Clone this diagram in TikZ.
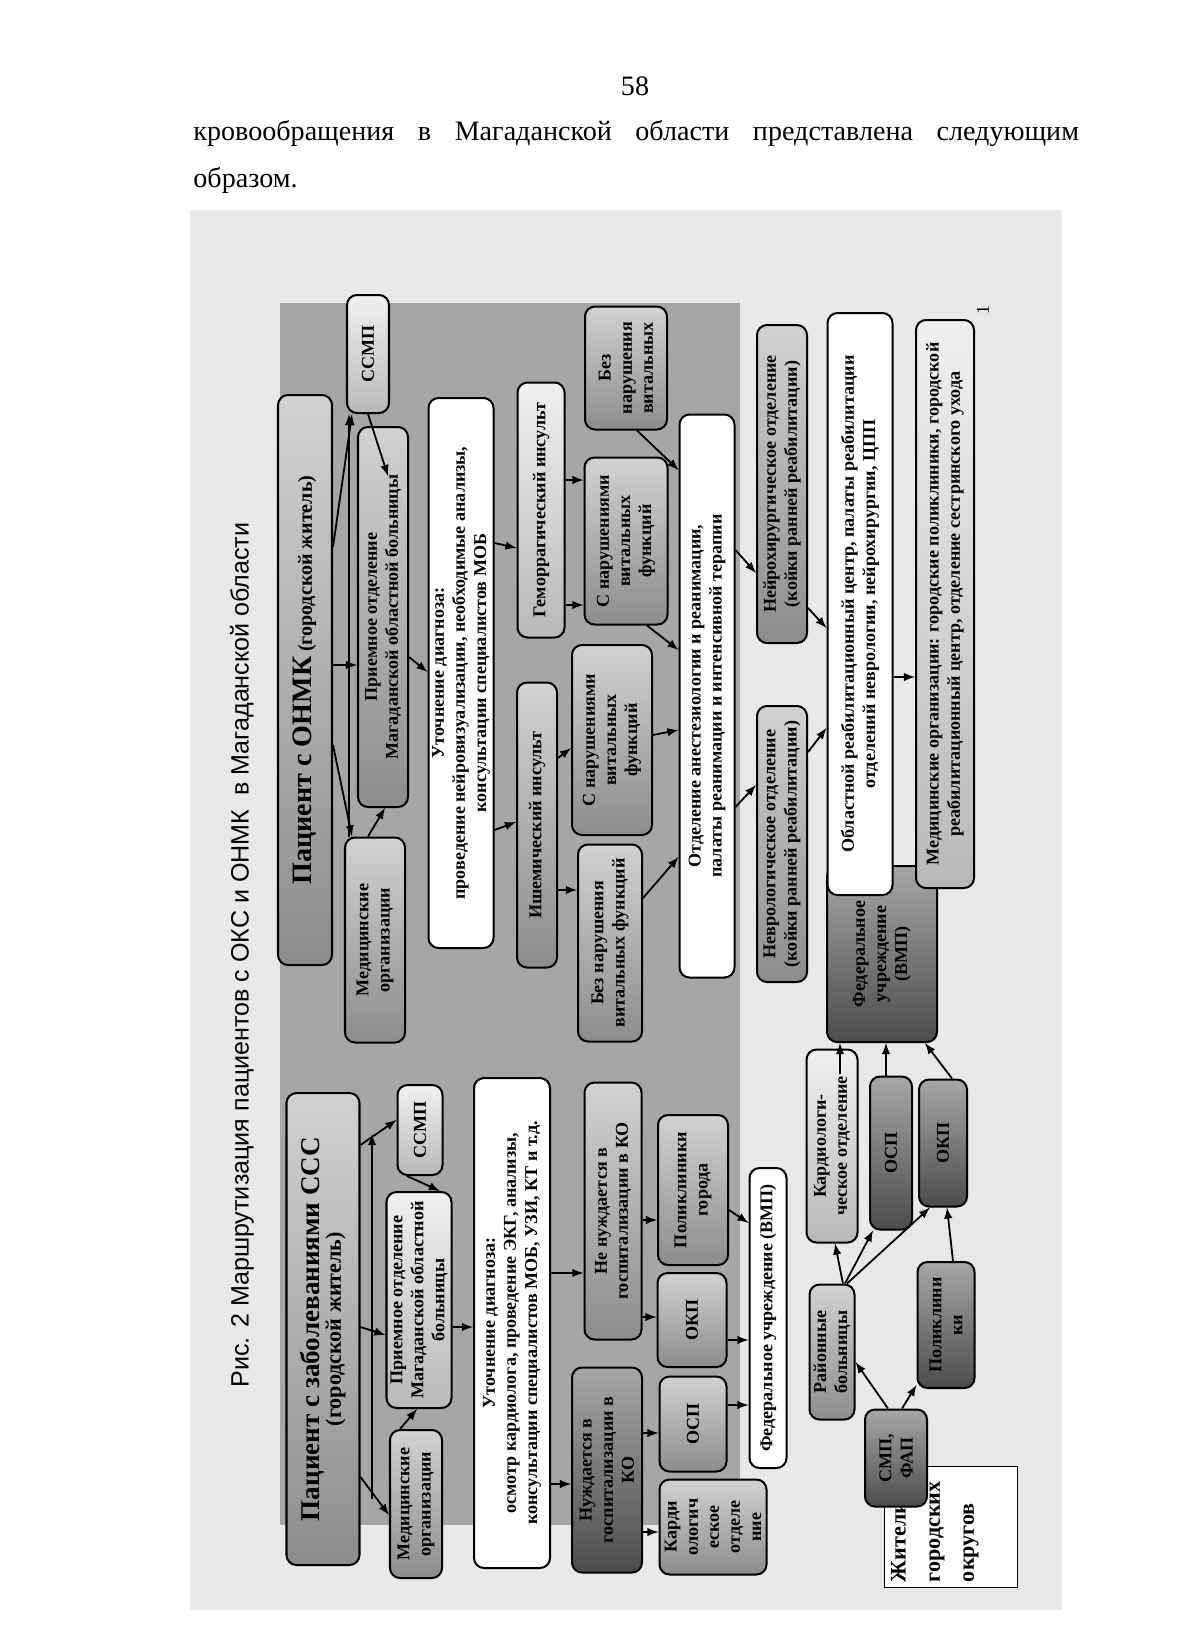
\documentclass[tikz,border=0pt]{standalone}
\usepackage{fontspec}
\setmainfont{Liberation Serif}
\newfontfamily\capfont{Liberation Sans}
\usetikzlibrary{calc}
\newcommand{\pxu}{0.0175cm}
\tikzset{
  blk/.style={draw, rounded corners=5pt, line width=1pt, rotate=90, align=center, inner sep=1pt, font=\fontsize{9}{10.5}\selectfont\bfseries},
  sz/.style 2 args={minimum height=#1*\pxu, minimum width=#2*\pxu},
  blkw/.style={blk, fill=white},
  blkl/.style={blk, top color=black!6, bottom color=black!28},
  blkm/.style={blk, top color=black!18, bottom color=black!45},
  blkd/.style={blk, top color=black!35, bottom color=black!70},
  arr/.style={->, line width=0.9pt},
}
\begin{document}
\begin{tikzpicture}[x=0.0175cm, y=-0.0175cm, >=latex]
	\useasboundingbox (0,0) rectangle (1200,1651);
	\fill[white] (0,0) rectangle (1200,1651);
	
	% page text
	\node[font=\fontsize{14}{16}\selectfont] (pnum) at (635,86) {58};
	\node[anchor=base west, inner sep=0pt, font=\fontsize{14}{16}\selectfont] (line1) at (193,140)
		{\makebox[15.5cm][s]{кровообращения в Магаданской области представлена следующим}};
	\node[anchor=base west, inner sep=0pt, font=\fontsize{14}{16}\selectfont] (line2) at (193,187) {образом.};
	
	% scanned background
	\fill[black!9] (190,210) rectangle (1062,1610);
	\fill[black!35] (280,303) rectangle (740,1525);
	
	% caption
	\node[rotate=90, font=\capfont\fontsize{12.5}{14}\selectfont] (capt) at (242,955)
		{Рис. 2 Маршрутизация пациентов с ОКС и ОНМК~ в Магаданской области};
	\node[rotate=90, font=\fontsize{9}{10}\selectfont] (fnote) at (983,310) {1};
	
	% ONMK
	\node[blkm, sz={54}{570}] (pOnmk) at (305,680)
		{{\fontsize{14}{16}\selectfont Пациент с ОНМК} {\fontsize{10}{12}\selectfont (городской житель)}};
	\node[blkl, sz={42}{118}] (ssmpA) at (368,354) {ССМП};
	\node[blkm, sz={50}{380}] (priemA) at (383,617) {Приемное отделение\\Магаданской областной больницы};
	\node[blkm, sz={60}{205}] (moA) at (375,940) {Медицинские\\организации};
	\node[blkw, sz={65}{550}] (utA) at (461,673)
		{Уточнение диагноза:\\проведение нейровизуализации, необходимые анализы,\\консультации специалистов МОБ};
	\node[blkl, sz={47}{255}] (gem) at (541,510) {Геморрагический инсульт};
	\node[blkm, sz={40}{285}] (ish) at (537,825) {Ишемический инсульт};
	\node[blkm, sz={82}{123}] (bezA) at (626,368) {Без\\нарушения\\витальных};
	\node[blkm, sz={83}{167}] (sA) at (626,541) {С нарушениями\\витальных\\функций};
	\node[blkm, sz={80}{190}] (sB) at (612,740) {С нарушениями\\витальных\\функций};
	\node[blkm, sz={64}{197}] (bezB) at (610,943) {Без нарушения\\витальных функций};
	\node[blkw, sz={55}{563}] (ane) at (707,696)
		{Отделение анестезиологии и реанимации,\\палаты реанимации и интенсивной терапии};
	\node[blkm, sz={50}{318}] (nhir) at (782,484) {Нейрохирургическое отделение\\(койки ранней реабилитации)};
	\node[blkm, sz={50}{276}] (nevr) at (782,844) {Неврологическое отделение\\(койки ранней реабилитации)};
	\node[blkd, sz={110}{176}] (fedA) at (882,954) {Федеральное\\учреждение\\(ВМП)};
	\node[blkw, sz={65}{582}] (obl) at (860,604)
		{Областной реабилитационный центр, палаты реабилитации\\отделений неврологии, нейрохирургии, ЦПП};
	\node[blkl, sz={58}{568}] (moB) at (945,604)
		{Медицинские организации: городские поликлиники, городской\\реабилитационный центр, отделение сестринского ухода};
	
	% CCC
	\node[blkm, sz={73}{472}] (pCcc) at (323,1329)
		{{\fontsize{13.5}{14}\selectfont Пациент с заболеваниями ССС}\\{\fontsize{11}{12}\selectfont (городской житель)}};
	\node[blkl, sz={45}{90}] (ssmpB) at (420,1130) {ССМП};
	\node[blkl, sz={65}{216}] (priemB) at (419,1300) {Приемное отделение\\Магаданской областной\\больницы};
	\node[blkm, sz={52}{148}] (moC) at (416,1504) {Медицинские\\организации};
	\node[blkw, sz={76}{490}] (utB) at (512,1323)
		{Уточнение диагноза:\\осмотр кардиолога, проведение ЭКГ, анализы,\\консультации специалистов МОБ, УЗИ, КТ и т.д.};
	\node[blkm, sz={57}{257}] (neN) at (613,1211) {Не нуждается в\\госпитализации в КО};
	\node[blkd, sz={70}{205}] (nuzh) at (607,1470) {Нуждается в\\госпитализации в\\КО};
	\node[blkm, sz={70}{150}] (polG) at (693,1190) {Поликлиники\\города};
	\node[blkm, sz={69}{94}] (okpA) at (692,1320) {ОКП};
	\node[blkm, sz={67}{95}] (ospA) at (693,1424) {ОСП};
	\node[blkm, sz={107}{95}] (kardA) at (713,1527) {Карди\\ологич\\еское\\отделе\\ние};
	\node[blkw, sz={37}{300}] (fedB) at (768,1318) {Федеральное учреждение (ВМП)};
	
	% districts
	\node[blkl, sz={51}{193}] (kardB) at (832,1146) {Кардиологи-\\ческое отделение};
	\node[blkd, sz={42}{153}] (ospB) at (891,1153) {ОСП};
	\node[blkd, sz={48}{127}] (okpB) at (943,1143) {ОКП};
	\node[blkm, sz={45}{135}] (rayon) at (832,1352) {Районные\\больницы};
	\node[blkd, sz={57}{126}] (polB) at (946,1325) {Поликлини\\ки};
	\node[draw, line width=0.8pt, fill=white, rotate=90, sz={133}{121}] (zhit) at (951,1527) {};
	\node[rotate=90, align=left, text width=110*\pxu, font=\fontsize{11}{17}\selectfont\bfseries] (zhitT) at (935,1527)
		{Жители\\городских\\округов};
	\node[blkd, sz={62}{97}] (smp) at (896,1458) {СМП,\\ФАП};
	
	% ONMK arrows
	\draw[arr] (pOnmk.south |- 0,547) -- (ssmpA.west -| 352,0);
	\draw[arr] (pOnmk.south |- 0,665) -- (priemA.north |- 0,665);
	\draw[arr] (pOnmk.south |- 0,745) -- (moA.east -| 352,0);
	\draw[arr] (moA.east -| 349,0) -- (ssmpA.west -| 349,0);
	\draw[arr] (moA.east -| 368,0) -- (priemA.west -| 385,0);
	\draw[arr] (ssmpA.west -| 368,0) -- ($(priemA.east -| 388,0)+(0,50)$);
	\draw[arr] (priemA.south |- 0,657) -- (utA.north |- 0,672);
	\draw[arr] (utA.south |- 0,543) -- (gem.north |- 0,548);
	\draw[arr] (utA.south |- 0,830) -- (ish.north |- 0,822);
	\draw[arr] (gem.south |- 0,480) -- (sA.north |- 0,480);
	\draw[arr] (gem.south |- 0,605) -- (sA.north |- 0,605);
	\draw[arr] (ish.south |- 0,758) -- (sB.north |- 0,748);
	\draw[arr] (ish.south |- 0,890) -- (bezB.north |- 0,890);
	\draw[arr] (bezA.west -| 637,0) -- (ane.north |- 0,470);
	\draw[arr] (sA.west -| 647,0) -- (ane.north |- 0,650);
	\draw[arr] (sB.south |- 0,735) -- (ane.north |- 0,730);
	\draw[arr] (bezB.south |- 0,898) -- (ane.north |- 0,857);
	\draw[arr] (ane.south |- 0,550) -- (nhir.north |- 0,573);
	\draw[arr] (ane.south |- 0,807) -- (nevr.north |- 0,785);
	\draw[arr] (nhir.south |- 0,608) -- (obl.north |- 0,628);
	\draw[arr] (nevr.south |- 0,752) -- (obl.north |- 0,728);
	\draw[arr] (obl.south |- 0,677) -- (moB.north |- 0,677);
	
	% district arrows
	\draw[arr] ($(kardB.east -| 840,0)+(0,25)$) -- (fedA.west -| 840,0);
	\draw[arr] (ospB.east -| 886,0) -- (fedA.west -| 886,0);
	\draw[arr] (okpB.east -| 952,0) -- (fedA.west -| 925,0);
	\draw[arr] (rayon.east -| 843,0) -- (kardB.west -| 835,0);
	\draw[arr] (rayon.east -| 845,0) -- (ospB.west -| 873,0);
	\draw[arr] (rayon.east -| 847,0) -- (okpB.west -| 930,0);
	\draw[arr] (polB.east -| 953,0) -- (okpB.west -| 947,0);
	\draw[arr] (smp.east -| 888,0) -- (rayon.south |- 0,1362);
	\draw[arr] (smp.east -| 902,0) -- (polB.north |- 0,1385);
	
	% CCC arrows
	\coordinate (jLow) at (372,1499);
	\coordinate (jTop) at (372,1134);
	\draw[arr] (pCcc.south |- 0,1145) -- (ssmpB.north |- 0,1120);
	\draw[arr] (pCcc.south |- 0,1327) -- (priemB.north |- 0,1335);
	\draw[arr] (pCcc.south |- 0,1477) -- (moC.north |- 0,1515);
	\draw[arr] (jLow) -- (jTop);
	\draw[arr] (ssmpB.west -| 407,0) -- (priemB.east -| 440,0);
	\draw[arr] (moC.east -| 400,0) -- (priemB.west -| 417,0);
	\draw[arr] (priemB.south |- 0,1327) -- (utB.north |- 0,1327);
	\draw[arr] (utB.south |- 0,1273) -- (neN.north |- 0,1273);
	\draw[arr] (utB.south |- 0,1484) -- (nuzh.north |- 0,1484);
	\draw[arr] (neN.south |- 0,1220) -- (polG.north |- 0,1220);
	\draw[arr] (neN.south |- 0,1317) -- (okpA.north |- 0,1317);
	\draw[arr] (nuzh.south |- 0,1433) -- (ospA.north |- 0,1433);
	\draw[arr] (nuzh.south |- 0,1532) -- (kardA.north |- 0,1532);
	\draw[arr] (polG.south |- 0,1210) -- (fedB.north |- 0,1223);
	\draw[arr] (okpA.south |- 0,1340) -- (fedB.north |- 0,1340);
	\draw[arr] (ospA.south |- 0,1405) -- (fedB.north |- 0,1405);
\end{tikzpicture}
\end{document}
